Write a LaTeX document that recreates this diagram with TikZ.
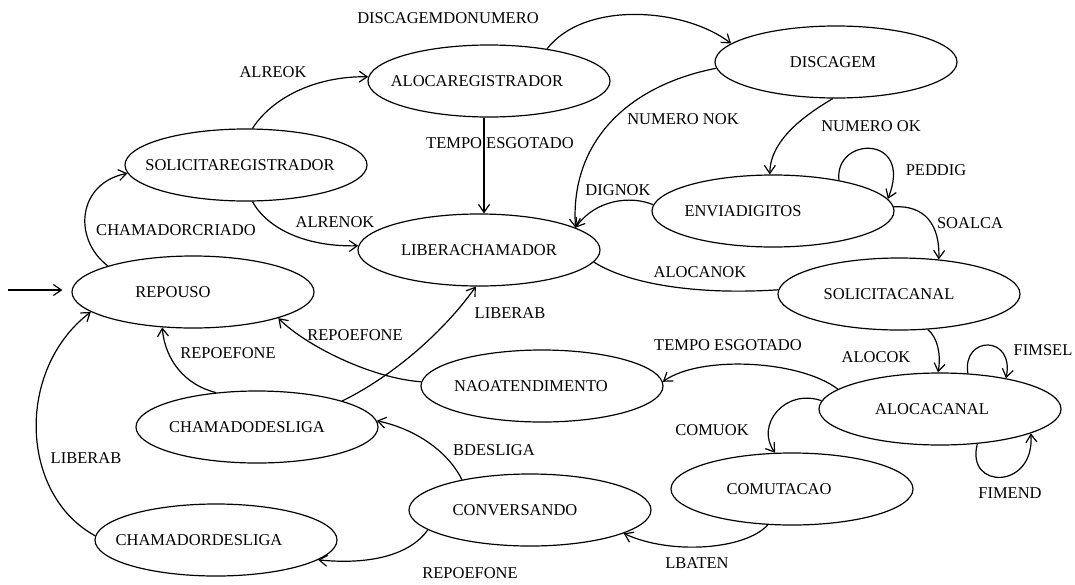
\documentclass[tikz,border=0pt]{standalone}
\usepackage{fontspec}
\setmainfont{Liberation Serif}
\usetikzlibrary{shapes.geometric,arrows.meta,calc}

\begin{document}
\begin{tikzpicture}[
  x=1pt, y=-1pt,
  font=\fontsize{16.5}{19}\selectfont,
  line width=1.2pt,
  st/.style={ellipse, draw, minimum width=242pt, minimum height=72pt, inner sep=0pt},
  arr/.style={-{Straight Barb[length=8pt,width=11pt]}},
  lab/.style={inner sep=1pt}
]
\useasboundingbox (0,0) rectangle (1075,584);

% states
\node[st, label={[xshift=-12pt]center:ALOCAREGISTRADOR}] (areg) at (489,81) {};
\node[st, label={[xshift=-3pt]center:DISCAGEM}]          (disc) at (836,62) {};
\node[st, label={[xshift=-6pt]center:SOLICITAREGISTRADOR}] (sreg) at (246,165) {};
\node[st, label={center:LIBERACHAMADOR}]                 (lib)  at (479,250) {};
\node[st, label={[xshift=-20pt]center:REPOUSO}]          (rep)  at (193,292) {};
\node[st, label={[xshift=-30pt]center:ENVIADIGITOS}]     (env)  at (773,211) {};
\node[st, label={[xshift=-10pt]center:SOLICITACANAL}]    (scan) at (899,294) {};
\node[st, label={[xshift=-11pt]center:NAOATENDIMENTO}]   (nao)  at (542,386) {};
\node[st, label={[xshift=-8pt]center:ALOCACANAL}]        (aloc) at (940,409) {};
\node[st, label={[xshift=-10pt]center:CHAMADODESLIGA}]   (cdes) at (257,427) {};
\node[st, label={[xshift=-13pt]center:COMUTACAO}]        (com)  at (792,489) {};
\node[st, label={[xshift=-15pt]center:CONVERSANDO}]      (conv) at (530,510) {};
\node[st, label={[xshift=-17pt]center:CHAMADORDESLIGA}]  (cdr)  at (216,540) {};

% initial transition
\coordinate (init) at (8,290);
\draw[arr, shorten >=9pt] (init) -- (rep.west |- init);

% transitions
\draw[arr] (rep.163) .. controls (72,238) and (78,183) .. (sreg.184);
\draw[arr] (sreg.80) .. controls (272,98) and (315,76) .. (areg.178);
\draw[arr] (sreg.-80) .. controls (265,225) and (300,247) .. (lib.178);
\draw[arr] (areg.29) .. controls (585,0) and (685,8) .. (disc.170);
\draw[arr] ($(areg.south)+(-5,0)$) -- ($(lib.north)+(5,0)$);
\draw[arr] (disc.183) .. controls (630,85) and (570,140) .. (lib.13);
\draw[arr] (disc.265) .. controls (805,115) and (770,140) .. (env.95);
\draw[arr] (env.25) .. controls (834,136) and (914,134) .. (env.6);
\draw[arr] (env.177) .. controls (630,195) and (595,200) .. (lib.13);
\draw[arr] (env.2) .. controls (925,205) and (940,225) .. (scan.41);
\draw (scan.178) .. controls (700,295) and (630,285) .. (lib.-6);
\draw[arr] (scan.-51) .. controls (938,338) and (941,355) .. (aloc.93);
\draw[arr] (aloc.52) .. controls (962,335) and (1015,335) .. (aloc.25);
\draw[arr] (aloc.-43) .. controls (965,490) and (1035,490) .. (aloc.-15);
\draw[arr] (aloc.169) .. controls (800,360) and (700,355) .. (nao.2);
\draw[arr] (aloc.176) .. controls (785,388) and (755,425) .. (com.115);
\draw[arr] (com.236) .. controls (745,550) and (670,555) .. (conv.-14);
\draw[arr] (conv.156) .. controls (450,455) and (420,430) .. (cdes.3);
\draw[arr] (conv.191) .. controls (410,555) and (370,565) .. (cdr.-11);
\draw[arr] (cdr.178) .. controls (20,495) and (15,370) .. (rep.191);
\draw[arr] (cdes.140) .. controls (185,385) and (165,360) .. (rep.229);
\draw[arr] (nao.178) .. controls (370,378) and (305,345) .. (rep.-17);
\draw[arr] (cdes.17) .. controls (395,375) and (445,330) .. (lib.265);

% transition labels
\node[lab] (tCriado)  at (176,230) {CHAMADORCRIADO};
\node[lab] (tAlreok)  at (273,72)  {ALREOK};
\node[lab] (tAlrenok) at (335,222) {ALRENOK};
\node[lab] (tDiscNum) at (448,18)  {DISCAGEMDONUMERO};
\node[lab] (tTempoA)  at (500,143) {TEMPO ESGOTADO};
\node[lab] (tNumNok)  at (683,119) {NUMERO NOK};
\node[lab] (tNumOk)   at (871,126) {NUMERO OK};
\node[lab] (tPeddig)  at (936,170) {PEDDIG};
\node[lab] (tDignok)  at (618,190) {DIGNOK};
\node[lab] (tSoalca)  at (970,223) {SOALCA};
\node[lab] (tAlocNok) at (700,272) {ALOCANOK};
\node[lab] (tAlocOk)  at (876,357) {ALOCOK};
\node[lab] (tFimsel)  at (1043,350) {FIMSEL};
\node[lab] (tFimend)  at (1010,493) {FIMEND};
\node[lab] (tTempoB)  at (728,345) {TEMPO ESGOTADO};
\node[lab] (tComuok)  at (712,430) {COMUOK};
\node[lab] (tLbaten)  at (697,563) {LBATEN};
\node[lab] (tBdesl)   at (494,450) {BDESLIGA};
\node[lab] (tRepoA)   at (470,573) {REPOEFONE};
\node[lab] (tLibA)    at (86,458)  {LIBERAB};
\node[lab] (tRepoB)   at (228,353) {REPOEFONE};
\node[lab] (tRepoC)   at (355,335) {REPOEFONE};
\node[lab] (tLibB)    at (510,313) {LIBERAB};
\end{tikzpicture}
\end{document}
